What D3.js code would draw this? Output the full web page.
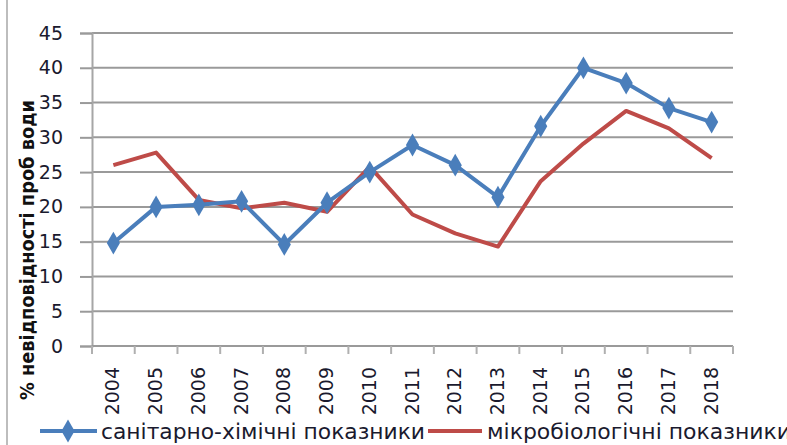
<!DOCTYPE html>
<html>
<head>
<meta charset="utf-8">
<script src="https://cdn.jsdelivr.net/npm/d3@7"></script>
<style>
  body { margin: 0; background: #fff; }
  text { font-family: "DejaVu Sans", sans-serif; }
</style>
</head>
<body>
<div class="main"></div>
<script>
// data
var years = ["2004", "2005", "2006", "2007", "2008", "2009", "2010", "2011",
  "2012", "2013", "2014", "2015", "2016", "2017", "2018"];
var chemValues = [14.8, 20.0, 20.3, 20.8, 14.6, 20.6, 25.0, 28.9, 26.0, 21.4, 31.6, 40.0, 37.8, 34.2, 32.2];
var microValues = [26.0, 27.8, 21.0, 19.8, 20.6, 19.3, 25.8, 18.9, 16.2, 14.3, 23.7, 29.1, 33.8, 31.3, 27.0];
var yTicks = [0, 5, 10, 15, 20, 25, 30, 35, 40, 45];
var seriesNames = ["санітарно-хімічні показники", "мікробіологічні показники"];
var yTitle = "% невідповідності проб води";

var fullwidth = 787, fullheight = 445;
var margin = { top: 33, right: 54, bottom: 99, left: 92 };
var width = fullwidth - margin.left - margin.right;
var height = fullheight - margin.top - margin.bottom;
var textColor = "#1a1a2e";

var root = d3.select(".main")
  .append("svg")
  .attr("width", fullwidth)
  .attr("height", fullheight);

// left frame line of the chart box
root.append("line")
  .attr("x1", 7).attr("x2", 7)
  .attr("y1", 0).attr("y2", fullheight)
  .attr("stroke", "#bdbdbd")
  .attr("stroke-width", 2);

var svg = root.append("g")
  .attr("transform", "translate(" + margin.left + "," + margin.top + ")");

// scales
var x = d3.scaleBand().domain(years).range([0, width]).padding(0);
var y = d3.scaleLinear().domain([0, 45]).range([height, 0]);

// horizontal grid
svg.append("g")
  .selectAll("line")
  .data(yTicks)
  .join("line")
  .attr("x1", 0).attr("x2", width)
  .attr("y1", d => y(d)).attr("y2", d => y(d))
  .attr("stroke", "#9a9a9a")
  .attr("stroke-width", 2);

// y axis
var yAxis = svg.append("g")
  .call(d3.axisLeft(y).tickValues(yTicks).tickSize(12).tickPadding(17));
yAxis.select(".domain").attr("stroke", "#a6a6a6").attr("stroke-width", 2);
yAxis.selectAll(".tick line").attr("stroke", "#9a9a9a").attr("stroke-width", 2);
yAxis.selectAll(".tick text")
  .attr("fill", textColor)
  .style("font-family", "DejaVu Sans")
  .style("font-size", "19px");

// x axis: ticks at category boundaries
var xAxisG = svg.append("g")
  .attr("transform", "translate(0," + height + ")");
xAxisG.append("line")
  .attr("x1", 0).attr("x2", width)
  .attr("stroke", "#9a9a9a").attr("stroke-width", 2);
var bounds = years.map(d => x(d)).concat([width]);
xAxisG.selectAll(".xtick")
  .data(bounds)
  .join("line")
  .attr("class", "xtick")
  .attr("x1", d => d).attr("x2", d => d)
  .attr("y1", 0).attr("y2", 8)
  .attr("stroke", "#b0b0b0").attr("stroke-width", 2);
xAxisG.selectAll(".xlab")
  .data(years)
  .join("text")
  .attr("class", "xlab")
  .attr("transform", d => "translate(" + (x(d) + x.bandwidth() / 2 + 6) + ",21) rotate(-90)")
  .attr("text-anchor", "end")
  .attr("fill", textColor)
  .style("font-size", "19px")
  .text(d => d);

// y title
root.append("text")
  .attr("transform", "translate(34,250) rotate(-90)")
  .attr("text-anchor", "middle")
  .attr("fill", "#111")
  .style("font-family", "DejaVu Sans Condensed")
  .style("font-size", "19px")
  .style("font-weight", "bold")
  .attr("textLength", 300)
  .attr("lengthAdjust", "spacingAndGlyphs")
  .text(yTitle);

// lines
var line = d3.line()
  .x((d, i) => x(years[i]) + x.bandwidth() / 2)
  .y(d => y(d));

svg.append("path")
  .datum(microValues)
  .attr("fill", "none")
  .attr("stroke", "#be4b48")
  .attr("stroke-width", 4)
  .attr("stroke-linejoin", "round")
  .attr("d", line);

svg.append("path")
  .datum(chemValues)
  .attr("fill", "none")
  .attr("stroke", "#4a7ebb")
  .attr("stroke-width", 4)
  .attr("stroke-linejoin", "round")
  .attr("d", line);

var diamond = d3.symbol().type(d3.symbolDiamond).size(150);
svg.append("g")
  .selectAll("path")
  .data(chemValues)
  .join("path")
  .attr("transform", (d, i) => "translate(" + (x(years[i]) + x.bandwidth() / 2) + "," + y(d) + ")")
  .attr("d", diamond)
  .attr("fill", "#4a7ebb");

// legend
var legend = root.append("g").attr("transform", "translate(0,431)");
legend.append("line")
  .attr("x1", 40).attr("x2", 97)
  .attr("stroke", "#4a7ebb").attr("stroke-width", 4);
legend.append("path")
  .attr("transform", "translate(68,0)")
  .attr("d", diamond)
  .attr("fill", "#4a7ebb");
legend.append("text")
  .attr("x", 101).attr("y", 8)
  .attr("fill", textColor)
  .style("font-size", "21px")
  .attr("textLength", 324)
  .attr("lengthAdjust", "spacingAndGlyphs")
  .text(seriesNames[0]);
legend.append("line")
  .attr("x1", 428).attr("x2", 482)
  .attr("stroke", "#be4b48").attr("stroke-width", 4);
legend.append("text")
  .attr("x", 487).attr("y", 8)
  .attr("fill", textColor)
  .style("font-size", "21px")
  .attr("textLength", 304)
  .attr("lengthAdjust", "spacingAndGlyphs")
  .text(seriesNames[1]);
</script>
</body>
</html>
